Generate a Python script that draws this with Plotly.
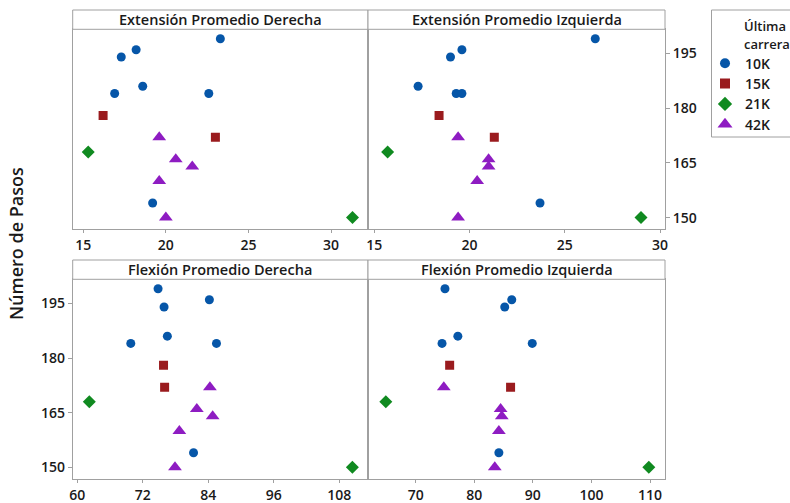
import plotly.graph_objects as go

W, H = 790, 503

# ---------------- data ----------------
categorias = ["10K", "15K", "21K", "42K"]
carrera = ["10K", "10K", "10K", "10K", "10K", "10K", "10K",
           "15K", "15K", "21K", "21K",
           "42K", "42K", "42K", "42K", "42K"]
pasos = [199, 196, 194, 186, 184, 184, 154,
         178, 172, 168, 150,
         172, 166, 164, 160, 150]
ext_der = [23.3, 18.2, 17.3, 18.6, 16.9, 22.6, 19.2,
           16.2, 23.0, 15.3, 31.3,
           19.6, 20.6, 21.6, 19.6, 20.0]
ext_izq = [26.6, 19.6, 19.0, 17.3, 19.3, 19.6, 23.7,
           18.4, 21.3, 15.7, 29.0,
           19.4, 21.0, 21.0, 20.4, 19.4]
flex_der = [74.8, 84.2, 75.9, 76.5, 69.8, 85.5, 81.3,
            75.8, 76.0, 62.2, 110.4,
            84.3, 81.9, 84.8, 78.7, 77.9]
flex_izq = [75.0, 86.4, 85.2, 77.2, 74.5, 89.9, 84.2,
            75.8, 86.2, 64.9, 109.8,
            74.8, 84.5, 84.7, 84.2, 83.5]

panel_titles = ["Extensión Promedio Derecha", "Extensión Promedio Izquierda",
                "Flexión Promedio Derecha", "Flexión Promedio Izquierda"]
panel_data = [ext_der, ext_izq, flex_der, flex_izq]
x_ticks = [[15, 20, 25, 30], [15, 20, 25, 30],
           [60, 72, 84, 96, 108], [70, 80, 90, 100, 110]]
y_ticks = [150, 165, 180, 195]

# ---------------- style ----------------
colors = {"10K": "#0656A8", "15K": "#9A1B1E", "21K": "#108A20", "42K": "#8E1CC2"}
symbols = {"10K": "circle", "15K": "square", "21K": "diamond", "42K": "triangle-up"}
sizes = {"10K": 9, "15K": 9, "21K": 10, "42K": 12}
FONT = "Open Sans"
TXT = "#1a1a1a"
GRID = "#a0a0a0"
WT = 600

def px_x(p):
    return p / W

def px_y(p):
    return 1 - p / H

col_x = [(72.7, 368.0), (368.0, 665.0)]
row_y = [(29.3, 229.3), (279.3, 479.0)]
strip_y = [(10.0, 29.3), (260.0, 279.3)]
x_ranges = [[14.36, 32.24], [14.67, 30.26], [59.16, 113.26], [61.86, 112.56]]
y_range = [146.8, 201.6]

fig = go.Figure()
layout = dict(width=W, height=H, margin=dict(l=0, r=0, t=0, b=0, autoexpand=False),
              paper_bgcolor="white", plot_bgcolor="white", showlegend=False,
              font=dict(family=FONT, color=TXT, size=14, weight=WT))
shapes, annotations = [], []

for k in range(4):
    r, c = divmod(k, 2)
    xa = "xaxis" if k == 0 else f"xaxis{k+1}"
    ya = "yaxis" if k == 0 else f"yaxis{k+1}"
    xr = "x" if k == 0 else f"x{k+1}"
    yr = "y" if k == 0 else f"y{k+1}"
    vals = panel_data[k]
    for cat in categorias:
        idx = [i for i, cc in enumerate(carrera) if cc == cat]
        fig.add_trace(go.Scatter(
            x=[vals[i] for i in idx], y=[pasos[i] for i in idx],
            mode="markers", xaxis=xr, yaxis=yr, name=cat,
            marker=dict(symbol=symbols[cat], color=colors[cat], size=sizes[cat],
                        line=dict(width=0)),
            hoverinfo="skip"))
    x0, x1 = col_x[c]
    y0, y1 = row_y[r]
    layout[xa] = dict(domain=[px_x(x0), px_x(x1)], range=x_ranges[k], anchor=yr,
                      showgrid=False, zeroline=False, showline=True, mirror=True,
                      linecolor=GRID, linewidth=1, ticks="outside", ticklen=3,
                      tickcolor=GRID, tickvals=x_ticks[k],
                      tickfont=dict(size=14, color=TXT, weight=WT))
    ydict = dict(domain=[px_y(y1), px_y(y0)], range=y_range, anchor=xr,
                 showgrid=False, zeroline=False, showline=True, mirror=True,
                 linecolor=GRID, linewidth=1, tickvals=y_ticks,
                 tickfont=dict(size=14, color=TXT, weight=WT))
    if (r == 0 and c == 1):
        ydict.update(side="right", ticks="outside", ticklen=4, tickcolor=GRID,
                     showticklabels=True)
    elif (r == 1 and c == 0):
        ydict.update(side="left", ticks="outside", ticklen=4, tickcolor=GRID,
                     showticklabels=True)
    else:
        ydict.update(ticks="", showticklabels=False)
    layout[ya] = ydict
    sy0, sy1 = strip_y[r]
    shapes.append(dict(type="rect", xref="paper", yref="paper",
                       x0=px_x(x0), x1=px_x(x1), y0=px_y(sy1), y1=px_y(sy0),
                       line=dict(color=GRID, width=1), fillcolor="white"))
    annotations.append(dict(text=panel_titles[k], xref="paper", yref="paper",
                            x=px_x((x0 + x1) / 2), y=px_y((sy0 + sy1) / 2),
                            xanchor="center", yanchor="middle", showarrow=False,
                            font=dict(size=14.5, color=TXT, weight=WT)))

# y title
annotations.append(dict(text="Número de Pasos", xref="paper", yref="paper",
                        x=px_x(16), y=px_y(244), textangle=-90, showarrow=False,
                        xanchor="center", yanchor="middle",
                        font=dict(size=18, color=TXT, weight=WT)))

# legend (manual)
LX0, LY0, LY1 = 711.5, 10.0, 137.0
shapes.append(dict(type="rect", xref="paper", yref="paper",
                   x0=px_x(LX0), x1=1.1, y0=px_y(LY1), y1=px_y(LY0),
                   line=dict(color=GRID, width=1), fillcolor="rgba(0,0,0,0)"))
layout["xaxis5"] = dict(domain=[px_x(LX0), 1.0], range=[0, W - LX0], visible=False,
                        fixedrange=True, anchor="y5")
layout["yaxis5"] = dict(domain=[px_y(LY1), px_y(LY0)], range=[LY1 - LY0, 0],
                        visible=False, fixedrange=True, anchor="x5")
for j, cat in enumerate(categorias):
    fig.add_trace(go.Scatter(x=[13.5], y=[53.3 + j * 20.3], xaxis="x5", yaxis="y5",
                             mode="markers", hoverinfo="skip",
                             marker=dict(symbol=symbols[cat], color=colors[cat],
                                         size=sizes[cat] + 1, line=dict(width=0))))
    annotations.append(dict(text=cat, xref="x5", yref="y5", x=31.5, y=53.3 + j * 20.3,
                            xanchor="left", yanchor="middle", showarrow=False,
                            font=dict(size=14, color=TXT, weight=WT)))
for j, t in enumerate(["Última", "carrera"]):
    annotations.append(dict(text=t, xref="x5", yref="y5", x=30.5, y=16 + j * 18.3,
                            xanchor="left", yanchor="middle", showarrow=False,
                            font=dict(size=13, color=TXT, weight=WT)))

layout["shapes"] = shapes
layout["annotations"] = annotations
fig.update_layout(**layout)
fig.write_html("out.html")
